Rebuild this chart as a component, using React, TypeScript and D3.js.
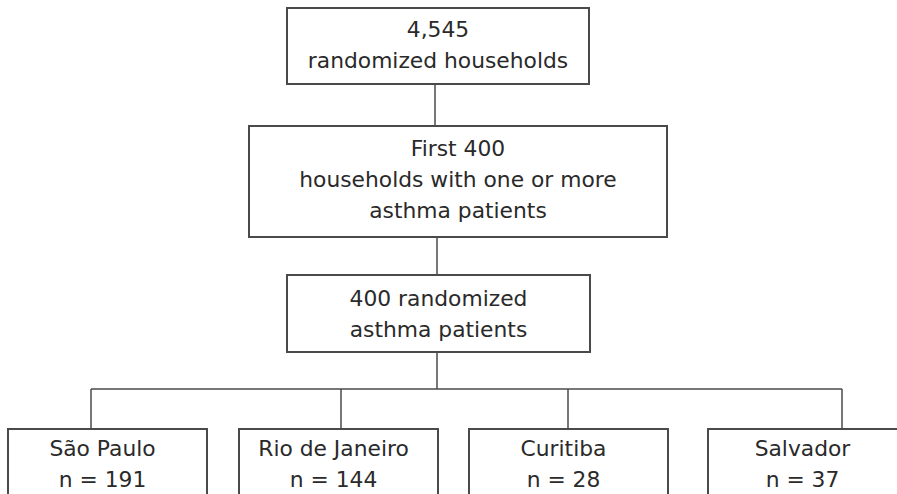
import React from 'react';
import * as d3 from 'd3';

// Flow chart contents
const topLines = ['4,545', 'randomized households'];
const screenLines = ['First 400', 'households with one or more', 'asthma patients'];
const sampleLines = ['400 randomized', 'asthma patients'];
const cities = ['São Paulo', 'Rio de Janeiro', 'Curitiba', 'Salvador'];
const cityCounts = [191, 144, 28, 37];

// Box layout (pixels)
const W = 897;
const H = 494;
const boxLayout = [
  { x0: 287, x1: 589, y0: 8, y1: 84, firstBaseline: 37 },
  { x0: 249, x1: 667, y0: 126, y1: 237, firstBaseline: 156 },
  { x0: 287, x1: 590, y0: 275, y1: 352, firstBaseline: 306 },
];
const cityBoxLeft = [8, 239, 469, 708];
const cityBoxWidth = 199;
const cityDropX = [91, 341, 568, 842];
const cityTop = 429;
const busY = 389;
const lineGap = 31;

const stroke = '#4a4a4a';
const ink = '#2a2a2a';
const font = '"DejaVu Sans", sans-serif';
const fontSize = 21.8;

const App = () => {
  const blocks = [topLines, screenLines, sampleLines];
  const link = d3.line<[number, number]>();

  const cityBoxes = cities.map((c, i) => ({
    name: c,
    n: cityCounts[i],
    x0: cityBoxLeft[i],
    x1: cityBoxLeft[i] + cityBoxWidth,
    dropX: cityDropX[i],
  }));

  return (
    <svg width={W} height={H} style={{ position: 'absolute', left: 0, top: 0, background: '#fff' }}>
      {/* connectors between the stacked boxes */}
      <path d={link([[435, boxLayout[0].y1], [435, boxLayout[1].y0]]) || ''} stroke={stroke} strokeWidth={1.5} fill="none" />
      <path d={link([[437, boxLayout[1].y1], [437, boxLayout[2].y0]]) || ''} stroke={stroke} strokeWidth={1.5} fill="none" />
      <path d={link([[437, boxLayout[2].y1], [437, busY]]) || ''} stroke={stroke} strokeWidth={1.5} fill="none" />
      <path d={link([[cityDropX[0], busY], [cityDropX[cityDropX.length - 1], busY]]) || ''} stroke={stroke} strokeWidth={1.5} fill="none" />
      {cityBoxes.map((b) => (
        <path key={b.name + 'drop'} d={link([[b.dropX, busY], [b.dropX, cityTop]]) || ''} stroke={stroke} strokeWidth={1.5} fill="none" />
      ))}

      {blocks.map((lines, i) => {
        const L = boxLayout[i];
        const cx = (L.x0 + L.x1) / 2;
        return (
          <g key={i}>
            <rect x={L.x0} y={L.y0} width={L.x1 - L.x0} height={L.y1 - L.y0} fill="#fff" stroke={stroke} strokeWidth={2} />
            {lines.map((t, j) => (
              <text key={j} x={cx} y={L.firstBaseline + j * lineGap} textAnchor="middle" fontFamily={font} fontSize={fontSize} fill={ink}>
                {t}
              </text>
            ))}
          </g>
        );
      })}

      {cityBoxes.map((b) => {
        const cx = (b.x0 + b.x1) / 2 - 5;
        return (
          <g key={b.name}>
            <rect x={b.x0} y={cityTop} width={b.x1 - b.x0} height={H - cityTop + 10} fill="#fff" stroke={stroke} strokeWidth={2} />
            <text x={cx} y={456} textAnchor="middle" fontFamily={font} fontSize={fontSize} fill={ink}>{b.name}</text>
            <text x={cx} y={456 + lineGap} textAnchor="middle" fontFamily={font} fontSize={fontSize} fill={ink}>{`n = ${b.n}`}</text>
          </g>
        );
      })}
    </svg>
  );
};

export default App;
